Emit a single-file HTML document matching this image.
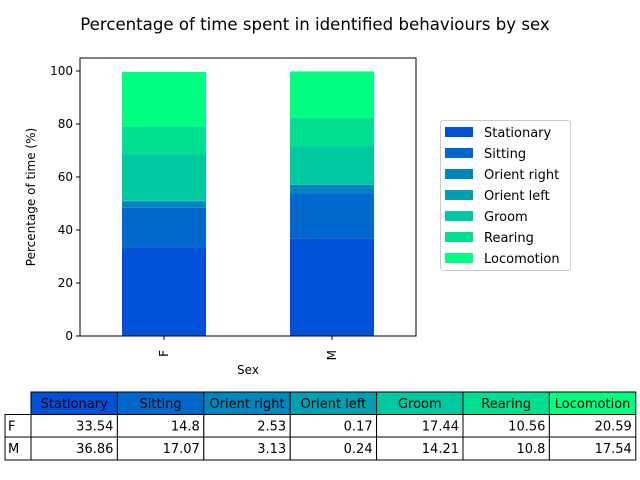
<!DOCTYPE html>
<html><head><meta charset="utf-8"><style>
body{margin:0;background:#fff;font-family:"DejaVu Sans","Liberation Sans",sans-serif}
svg{display:block}
text{font-family:"DejaVu Sans","Liberation Sans",sans-serif}
</style></head><body>
<svg id="chart" width="640" height="480" xmlns="http://www.w3.org/2000/svg">
<text x="315" y="30" font-size="16.6" text-anchor="middle">Percentage of time spent in identified behaviours by sex</text>
<g id="plot"></g>
<g id="table"></g>
</svg>
<script>
const categories = ["F", "M"];
const series = ["Stationary","Sitting","Orient right","Orient left","Groom","Rearing","Locomotion"];
const valuesF = [33.54, 14.8, 2.53, 0.17, 17.44, 10.56, 20.59];
const valuesM = [36.86, 17.07, 3.13, 0.24, 14.21, 10.8, 17.54];
const yTicks = [0, 20, 40, 60, 80, 100];
const colors = ["#0050d8","#0068cc","#0086be","#00a0b0","#00c8a0","#00e090","#00ff80"];
const allValues = [valuesF, valuesM];

const NS = "http://www.w3.org/2000/svg";
const plot = document.getElementById('plot');
const tbl = document.getElementById('table');
function mk(tag, attrs, parent, txt){const e=document.createElementNS(NS,tag);for(const k in attrs)e.setAttribute(k,attrs[k]);if(txt!==undefined)e.textContent=txt;parent.appendChild(e);return e;}
const L=80,R=416,T=58,B=336;
const y0=336, pxPer=2.65;
function yS(v){return y0 - v*pxPer;}
const catW=(R-L)/categories.length, barW=84;
function xC(i){return L+catW*(i+0.5);}

categories.forEach((c,i)=>{
  let acc=0;
  allValues[i].forEach((v,j)=>{
    const r=mk('rect',{x:xC(i)-barW/2,y:yS(acc+v),width:barW,height:v*pxPer,fill:colors[j]},plot);
    
    
    acc+=v;
  });
  const tk=mk('line',{x1:xC(i),x2:xC(i),y1:B,y2:B+4,stroke:'#000'},plot);
  
  
  const t=mk('text',{x:xC(i)+4,y:B+14,'font-size':12,transform:`rotate(-90 ${xC(i)+4} ${B+14})`,'text-anchor':'end'},plot,c);
  
  
});
yTicks.forEach(v=>{
  const tk=mk('line',{x1:L-4,x2:L,y1:yS(v),y2:yS(v),stroke:'#000'},plot);
  
  
  const t=mk('text',{x:L-7,y:yS(v)+4,'font-size':12,'text-anchor':'end'},plot,v);
  
  
});
const fr=mk('rect',{x:L,y:T,width:R-L,height:B-T,fill:'none',stroke:'#000','stroke-width':1},plot);


const xt=mk('text',{x:248,y:374,'font-size':12,'text-anchor':'middle'},plot,'Sex');


const yt=mk('text',{x:35,y:197,'font-size':12,'text-anchor':'middle',transform:'rotate(-90 35 197)'},plot,'Percentage of time (%)');



const lg=mk('rect',{x:440.5,y:120.5,width:130,height:150,rx:3,fill:'#fff',stroke:'#ccc'},plot);


series.forEach((s,j)=>{
  const y=132+j*21;
  const p=mk('rect',{x:445,y:y-5,width:28,height:10,fill:colors[j]},plot);
  
  
  const t=mk('text',{x:484,y:y+5,'font-size':13},plot,s);
  
  
});

const cx0=31, cw=86.4, rows=[392,414.5,437,460];
series.forEach((s,j)=>{
  const x=cx0+j*cw;
  const h=mk('rect',{x:x,y:rows[0],width:cw,height:rows[1]-rows[0],fill:colors[j],stroke:'#000'},tbl);
  
  
  const t=mk('text',{x:x+cw/2,y:rows[0]+16,'font-size':13,'text-anchor':'middle'},tbl,s);
  
  
});
categories.forEach((c,i)=>{
  const ya=rows[i+1], yb=rows[i+2];
  const rc=mk('rect',{x:5,y:ya,width:26,height:yb-ya,fill:'#fff',stroke:'#000'},tbl);
  
  
  const rt=mk('text',{x:8,y:ya+16,'font-size':13},tbl,c);
  
  
  allValues[i].forEach((v,j)=>{
    const x=cx0+j*cw;
    const cell=mk('rect',{x:x,y:ya,width:cw,height:yb-ya,fill:'#fff',stroke:'#000'},tbl);
    
    
    const t=mk('text',{x:x+cw-4,y:ya+16,'font-size':13,'text-anchor':'end'},tbl,v);
    
    
  });
});
</script>
</body></html>
